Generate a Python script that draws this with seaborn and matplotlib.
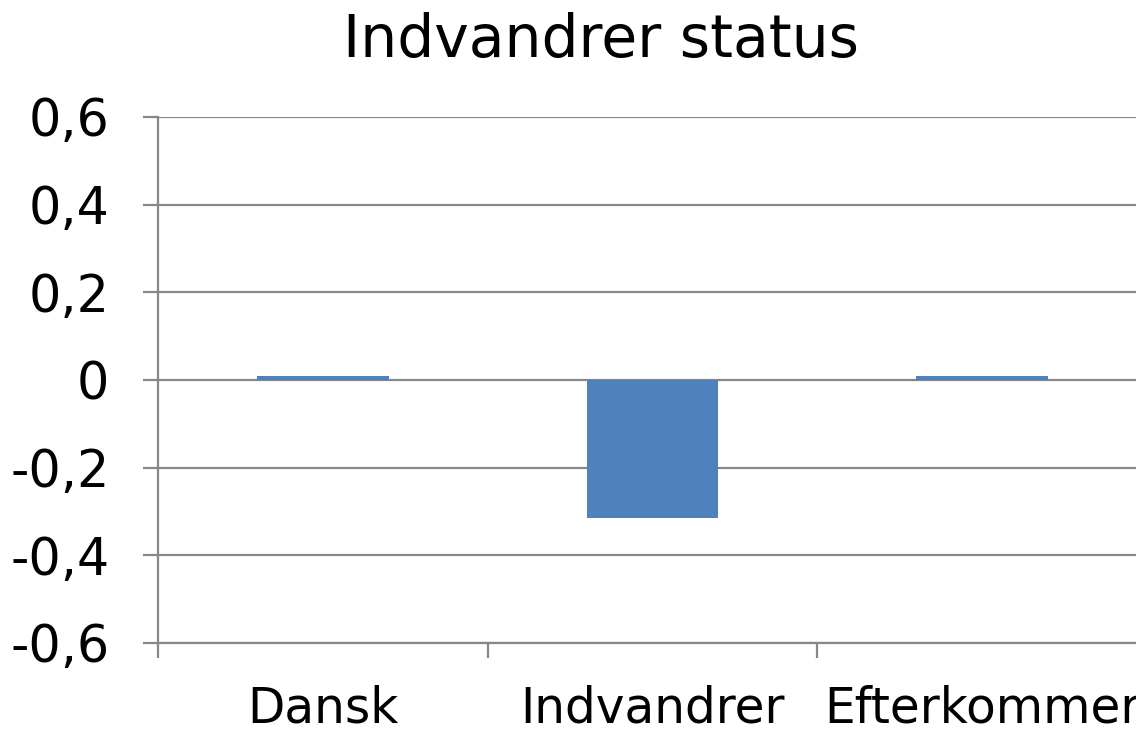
import matplotlib
matplotlib.use("Agg")
import matplotlib.pyplot as plt
import seaborn as sns
import pandas as pd
from matplotlib.ticker import FuncFormatter

# Data
categories = ["Dansk", "Indvandrer", "Efterkommer"]
values = [0.01, -0.315, 0.01]
yticks = [-0.6, -0.4, -0.2, 0, 0.2, 0.4, 0.6]

df = pd.DataFrame({"status": categories, "value": values})

sns.set_theme(style="white")
plt.rcParams["font.family"] = ["DejaVu Sans"]
plt.rcParams["text.color"] = "black"

fig = plt.figure(figsize=(11.36, 7.32), dpi=100)
ax = fig.add_axes([158 / 1136, 1 - 643 / 732, 989 / 1136, 526 / 732])

sns.barplot(data=df, x="status", y="value", color="#4F81BD", width=0.4,
            saturation=1, linewidth=0, ax=ax, zorder=3)

ax.set_ylim(-0.6, 0.6)
ax.set_xlim(-0.5, 2.5)
ax.set_yticks(yticks)
ax.yaxis.set_major_formatter(FuncFormatter(
    lambda v, p: "0" if abs(v) < 1e-9 else f"{v:.1f}".replace(".", ",")))

ax.grid(axis="y", color="#878787", linewidth=1.6, zorder=0)
ax.set_axisbelow(True)
for s in ["top", "right"]:
    ax.spines[s].set_visible(False)
for s in ["left", "bottom"]:
    ax.spines[s].set_color("#878787")
    ax.spines[s].set_linewidth(1.6)

# category tick marks sit on the boundaries between groups
ax.set_xticks([-0.5, 0.5, 1.5, 2.5])
ax.set_xticklabels([])
ax.set_xticks([0, 1, 2], minor=True)
ax.set_xticklabels(categories, minor=True)
ax.tick_params(axis="x", which="major", length=11, width=1.6, color="#878787",
               direction="out", bottom=True)
ax.tick_params(axis="x", which="minor", length=0, pad=30, labelsize=35,
               labelcolor="black")
ax.tick_params(axis="y", length=11, width=1.6, color="#878787",
               direction="out", left=True, pad=24, labelsize=36.5,
               labelcolor="black")
ax.set_xlabel("")
ax.set_ylabel("")

fig.text(601 / 1136, 1 - 40 / 732, "Indvandrer status", ha="center",
         va="center", fontsize=42, color="black")

fig.savefig("out.png", dpi=100)
